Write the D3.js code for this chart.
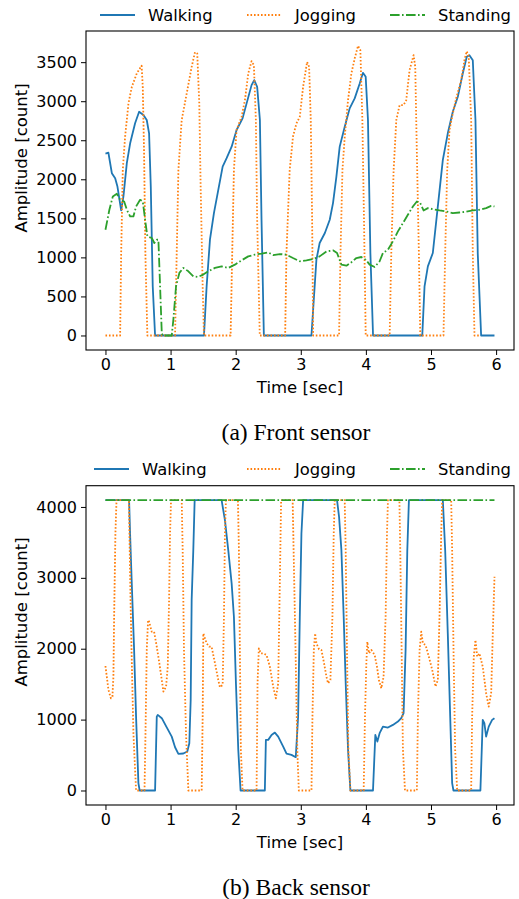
<!DOCTYPE html>
<html>
<head>
<meta charset="utf-8">
<title>Front and back sensor amplitude</title>
<script src="https://d3js.org/d3.v7.min.js"></script>
<style>
body { margin: 0; background: #fff; }
svg text { font-family: "DejaVu Sans", sans-serif; fill: #000; }
svg text.caption { font-family: "Liberation Serif", "Times New Roman", serif; }
</style>
</head>
<body>
<div id="chart"></div>
<script>
// series names (legend order)
var seriesNames = ["Walking", "Jogging", "Standing"];

// x ticks (seconds)
var timeTicks = [0, 1, 2, 3, 4, 5, 6];
var frontTicks = [0, 500, 1000, 1500, 2000, 2500, 3000, 3500];
var backTicks = [0, 1000, 2000, 3000, 4000];

// (a) Front sensor — [time (sec), amplitude (count)]
var frontWalking = [[0,2330],[0.045,2340],[0.098,2078],[0.149,2014],[0.184,1907],[0.241,1601],[0.276,1780],[0.328,2206],[0.379,2461],[0.455,2717],[0.517,2865],[0.583,2823],[0.634,2759],[0.67,2589],[0.696,1907],[0.726,630],[0.762,0],[1.513,0],[1.554,630],[1.605,1226],[1.666,1567],[1.733,1865],[1.8,2163],[1.861,2270],[1.938,2418],[2.014,2631],[2.106,2780],[2.168,2972],[2.244,3206],[2.285,3270],[2.33,3184],[2.372,2759],[2.397,1482],[2.433,0],[3.164,0],[3.19,332],[3.24,971],[3.29,1184],[3.37,1312],[3.445,1482],[3.495,1695],[3.547,2035],[3.598,2418],[3.675,2673],[3.751,2908],[3.828,3036],[3.905,3227],[3.955,3363],[3.997,3312],[4.032,2759],[4.069,1056],[4.11,0],[4.866,0],[4.901,630],[4.952,885],[5.028,1056],[5.105,1652],[5.182,2248],[5.258,2589],[5.335,2865],[5.412,3057],[5.488,3355],[5.549,3568],[5.59,3589],[5.642,3525],[5.683,2759],[5.718,1056],[5.77,0],[5.975,0]];
var frontJogging = [[0,0],[0.225,0],[0.241,1056],[0.266,2120],[0.302,2546],[0.353,2972],[0.405,3184],[0.481,3355],[0.555,3455],[0.573,3184],[0.593,2334],[0.613,1056],[0.644,0],[1.069,0],[1.094,1056],[1.12,2120],[1.171,2759],[1.248,3100],[1.324,3440],[1.375,3628],[1.41,3610],[1.441,2972],[1.462,1907],[1.493,630],[1.513,0],[1.922,0],[1.947,1056],[1.973,2120],[2.014,2631],[2.091,2801],[2.142,3014],[2.193,3355],[2.244,3513],[2.28,3461],[2.31,2759],[2.33,1482],[2.37,0],[2.76,0],[2.78,1056],[2.83,2120],[2.88,2546],[2.934,2717],[2.985,2801],[3.036,3184],[3.097,3504],[3.128,3440],[3.153,2759],[3.174,1482],[3.19,0],[3.588,0],[3.61,1056],[3.64,2120],[3.675,2546],[3.726,3014],[3.777,3355],[3.828,3547],[3.879,3710],[3.915,3653],[3.946,2759],[3.971,1482],[3.997,0],[4.365,0],[4.39,1056],[4.426,2120],[4.467,2759],[4.518,2950],[4.579,2950],[4.62,3014],[4.671,3398],[4.733,3589],[4.758,3440],[4.783,2334],[4.814,1056],[4.835,0],[5.192,0],[5.218,1056],[5.249,2120],[5.284,2631],[5.335,2844],[5.387,3036],[5.464,3270],[5.514,3525],[5.549,3640],[5.58,3568],[5.617,2759],[5.642,1056],[5.668,0],[5.745,0]];
var frontStanding = [[0,1354],[0.06,1610],[0.113,1780],[0.175,1814],[0.225,1737],[0.287,1716],[0.328,1610],[0.379,1524],[0.429,1524],[0.471,1652],[0.532,1737],[0.573,1716],[0.609,1482],[0.644,1269],[0.711,1248],[0.751,1184],[0.788,1226],[0.813,1226],[0.839,630],[0.865,30],[0.88,0],[1.018,0],[1.043,204],[1.084,630],[1.135,801],[1.196,865],[1.273,822],[1.35,758],[1.426,750],[1.502,780],[1.579,822],[1.682,865],[1.784,886],[1.886,865],[1.988,907],[2.091,962],[2.193,1013],[2.295,1035],[2.397,1048],[2.499,1064],[2.576,1030],[2.678,1043],[2.78,1035],[2.88,992],[2.985,950],[3.087,962],[3.19,979],[3.29,1013],[3.394,1077],[3.495,1090],[3.557,1056],[3.624,907],[3.701,894],[3.777,937],[3.854,992],[3.93,1005],[3.997,971],[4.058,907],[4.135,877],[4.211,950],[4.262,1056],[4.339,1098],[4.415,1205],[4.492,1333],[4.569,1439],[4.645,1545],[4.722,1652],[4.783,1716],[4.835,1695],[4.886,1601],[4.952,1631],[5.028,1618],[5.131,1601],[5.233,1588],[5.335,1567],[5.437,1575],[5.54,1584],[5.642,1601],[5.744,1610],[5.847,1631],[5.924,1660],[5.975,1652]];

// (b) Back sensor
var backWalking = [[0,4095],[0.363,4095],[0.378,3625],[0.404,2921],[0.44,1982],[0.47,1042],[0.506,104],[0.525,0],[0.762,0],[0.788,1042],[0.803,1066],[0.865,1020],[0.941,890],[1.018,760],[1.069,610],[1.12,517],[1.196,522],[1.257,550],[1.288,667],[1.309,1277],[1.324,2686],[1.349,3390],[1.37,4095],[1.784,4095],[1.835,3813],[1.886,3390],[1.938,2921],[1.973,2451],[2.004,1512],[2.04,573],[2.075,0],[2.448,0],[2.464,714],[2.5,714],[2.551,784],[2.602,817],[2.653,760],[2.73,620],[2.781,520],[2.857,502],[2.923,470],[2.959,1042],[2.985,2451],[3.01,3625],[3.036,4095],[3.557,4095],[3.588,3860],[3.624,3390],[3.659,2451],[3.69,1512],[3.726,573],[3.762,0],[4.109,0],[4.145,784],[4.176,690],[4.211,808],[4.262,901],[4.339,888],[4.415,925],[4.492,972],[4.543,1020],[4.579,1090],[4.61,1982],[4.636,3390],[4.661,4095],[5.182,4095],[5.218,3390],[5.258,2216],[5.295,1042],[5.325,104],[5.345,0],[5.759,0],[5.795,996],[5.82,949],[5.847,760],[5.887,901],[5.939,996],[5.975,1020]];
var backJogging = [[0,1756],[0.046,1418],[0.083,1301],[0.107,1324],[0.122,1600],[0.133,2451],[0.153,3625],[0.17,4095],[0.36,4095],[0.385,2700],[0.4,2000],[0.43,800],[0.47,0],[0.6,0],[0.615,800],[0.635,2000],[0.655,2404],[0.67,2380],[0.711,2240],[0.747,2240],[0.788,2028],[0.828,1794],[0.865,1559],[0.89,1395],[0.931,1465],[0.957,1747],[0.977,2686],[0.992,3625],[1.007,4095],[1.171,4095],[1.186,3390],[1.206,1982],[1.237,808],[1.273,0],[1.478,0],[1.493,1042],[1.503,2216],[1.554,2076],[1.594,2029],[1.63,2029],[1.682,1794],[1.733,1559],[1.758,1456],[1.8,1489],[1.82,2451],[1.835,3625],[1.85,4095],[2.035,4095],[2.05,3390],[2.065,1982],[2.08,573],[2.106,0],[2.321,0],[2.336,1512],[2.356,2005],[2.387,1935],[2.42,1935],[2.474,1912],[2.525,1747],[2.576,1465],[2.617,1301],[2.653,1512],[2.678,2921],[2.698,4095],[2.875,4095],[2.89,3390],[2.92,1982],[2.947,573],[2.97,0],[3.164,0],[3.179,1042],[3.2,1982],[3.22,2216],[3.24,2076],[3.281,1992],[3.317,1982],[3.358,1794],[3.394,1606],[3.419,1512],[3.455,1559],[3.486,2451],[3.506,3625],[3.521,4095],[3.675,4095],[3.69,3390],[3.71,1982],[3.731,573],[3.762,0],[3.966,0],[3.986,1042],[4.007,1794],[4.022,2099],[4.047,1935],[4.084,1982],[4.135,1912],[4.17,1747],[4.2,1559],[4.237,1442],[4.272,1606],[4.303,2451],[4.324,3625],[4.339,4095],[4.515,4095],[4.528,3390],[4.549,1982],[4.569,573],[4.6,0],[4.783,0],[4.799,1042],[4.825,1982],[4.85,2240],[4.876,2076],[4.917,2052],[4.967,1888],[5.019,1700],[5.07,1465],[5.105,1559],[5.131,2451],[5.157,3625],[5.172,4095],[5.31,4095],[5.325,3390],[5.346,1982],[5.371,573],[5.402,0],[5.617,0],[5.632,1042],[5.657,1888],[5.683,2122],[5.709,1888],[5.744,1935],[5.795,1747],[5.847,1372],[5.887,1183],[5.924,1372],[5.949,2216],[5.975,3014]];
var backStanding = [[0,4095],[5.975,4095]];

// matplotlib default colours + dash patterns
var colors = ["#1f77b4", "#ff7f0e", "#2ca02c"];
var dashes = [null, "1.6,1.9", "9.6,2.4,1.6,2.4"];

var W = 519, H = 899;
var left = 86, right = 514;

const svg = d3.create("svg")
	.attr("width", W)
	.attr("height", H)
	.attr("viewBox", [0, 0, W, H]);

svg.append("rect").attr("width", W).attr("height", H).attr("fill", "#fff");

drawPanel({
	top: 31, bottom: 350,
	yDomain: [-186, 3899], yTicks: frontTicks,
	series: [frontWalking, frontJogging, frontStanding],
	legendY: 15, legendOffset: 3, ylabelY: 158, xlabelY: 387, captionY: 432,
	caption: "(a) Front sensor"
});
drawPanel({
	top: 485.7, bottom: 805,
	yDomain: [-204.75, 4299.75], yTicks: backTicks,
	series: [backWalking, backJogging, backStanding],
	legendY: 469, legendOffset: -3, ylabelY: 612, xlabelY: 842, captionY: 887,
	caption: "(b) Back sensor"
});

document.getElementById("chart").appendChild(svg.node());

function drawPanel(p) {
	var x = d3.scaleLinear().domain([-0.299, 6.275]).range([left, right]);
	var y = d3.scaleLinear().domain(p.yDomain).range([p.bottom, p.top]);
	var g = svg.append("g");

	var line = d3.line().x(d => x(d[0])).y(d => y(d[1]));

	// series (standing drawn last, like matplotlib order)
	p.series.forEach(function(s, i) {
		g.append("path")
			.datum(s)
			.attr("d", line)
			.attr("fill", "none")
			.attr("stroke", colors[i])
			.attr("stroke-width", 1.8)
			.attr("stroke-linejoin", "round")
			.attr("stroke-dasharray", dashes[i]);
	});

	// axes
	var xAxis = d3.axisBottom(x).tickValues(timeTicks).tickSize(5).tickPadding(4).tickFormat(d3.format("d"));
	var yAxis = d3.axisLeft(y).tickValues(p.yTicks).tickSize(5).tickPadding(4).tickFormat(d3.format("d"));

	var gx = g.append("g").attr("transform", "translate(0," + p.bottom + ")").call(xAxis);
	var gy = g.append("g").attr("transform", "translate(" + left + ",0)").call(yAxis);
	[gx, gy].forEach(function(a) {
		a.select(".domain").remove();
		a.selectAll("line").attr("stroke", "#000").attr("stroke-width", 1);
		a.selectAll("text").attr("font-size", 16).attr("font-family", "DejaVu Sans").attr("fill", "#000");
	});

	// frame
	g.append("rect")
		.attr("x", left).attr("y", p.top)
		.attr("width", right - left).attr("height", p.bottom - p.top)
		.attr("fill", "none").attr("stroke", "#000").attr("stroke-width", 1.1);

	// labels
	g.append("text")
		.attr("x", 300).attr("y", p.xlabelY)
		.attr("text-anchor", "middle").attr("dominant-baseline", "central")
		.attr("font-size", 16.5)
		.text("Time [sec]");
	g.append("text")
		.attr("transform", "translate(21," + p.ylabelY + ") rotate(-90)")
		.attr("text-anchor", "middle").attr("dominant-baseline", "central")
		.attr("font-size", 16.5)
		.text("Amplitude [count]");

	// legend above the axes
	var legX = [97 + p.legendOffset, 247, 390];
	seriesNames.forEach(function(name, i) {
		g.append("line")
			.attr("x1", legX[i]).attr("x2", legX[i] + 35)
			.attr("y1", p.legendY).attr("y2", p.legendY)
			.attr("stroke", colors[i]).attr("stroke-width", 1.8)
			.attr("stroke-dasharray", dashes[i]);
		g.append("text")
			.attr("x", legX[i] + 48).attr("y", p.legendY)
			.attr("dominant-baseline", "central")
			.attr("font-size", 16.4)
			.text(name);
	});

	// sub-caption
	g.append("text")
		.attr("class", "caption")
		.attr("x", 296).attr("y", p.captionY)
		.attr("text-anchor", "middle").attr("dominant-baseline", "central")
		.attr("font-size", 23.5)
		.text(p.caption);
}
</script>
</body>
</html>
